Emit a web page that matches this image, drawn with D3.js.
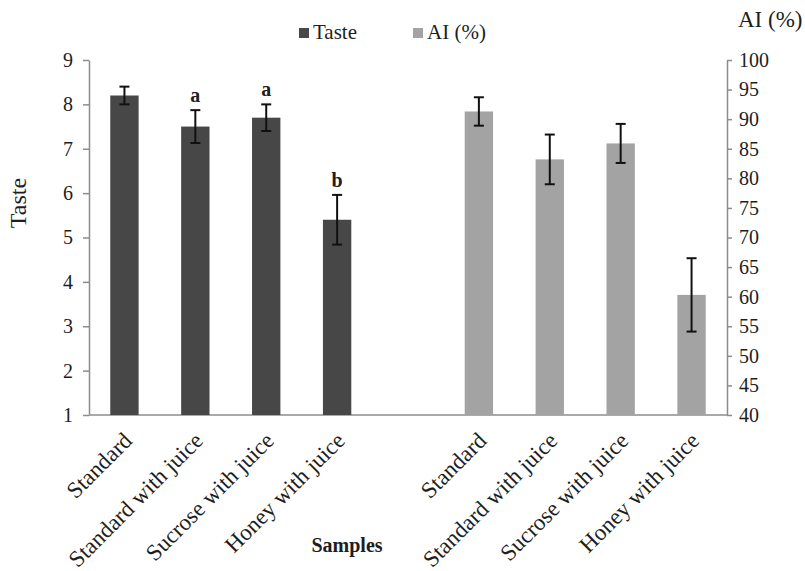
<!DOCTYPE html>
<html>
<head>
<meta charset="utf-8">
<script src="https://cdn.jsdelivr.net/npm/d3@7"></script>
<style>
  body { margin: 0; background: #fff; }
  svg text { font-family: 'Liberation Serif', 'Times New Roman', serif; fill: #1e1e1e; }
  .axis path, .axis line { stroke: #8c8c8c; stroke-width: 1.5; }
  .axis text { font-size: 20px; font-family: 'Liberation Serif', 'Times New Roman', serif; }
</style>
</head>
<body>
<svg id="chart"></svg>
<script>
// data
const samples = ['Standard', 'Standard with juice', 'Sucrose with juice', 'Honey with juice'];
const tasteValues = [8.2, 7.5, 7.7, 5.4];
const tasteErrors = [0.2, 0.37, 0.3, 0.56];
const tasteLetters = ['', 'a', 'a', 'b'];
const aiValues = [91.3, 83.2, 85.9, 60.3];
const aiErrors = [2.4, 4.2, 3.3, 6.2];
const tasteTicks = [1, 2, 3, 4, 5, 6, 7, 8, 9];
const aiTicks = [40, 45, 50, 55, 60, 65, 70, 75, 80, 85, 90, 95, 100];

const config = {
  width: 805, height: 571,
  margin: {top: 60, right: 78, bottom: 156, left: 89}
};
const innerW = config.width - config.margin.left - config.margin.right;
const innerH = config.height - config.margin.top - config.margin.bottom;

const svg = d3.select('#chart')
    .attr('width', config.width)
    .attr('height', config.height);

const chart = svg.append('g')
    .attr('transform', `translate(${config.margin.left},${config.margin.top})`);

// 9 slots: 4 taste, one empty gap, 4 AI
const slots = samples.map((s, i) => 't' + i).concat(['gap']).concat(samples.map((s, i) => 'a' + i));
const xScale = d3.scaleBand().domain(slots).range([0, innerW]).paddingInner(0.6).paddingOuter(0.3);

const yTaste = d3.scaleLinear().domain([1, 9]).range([innerH, 0]);
const yAI = d3.scaleLinear().domain([40, 100]).range([innerH, 0]);

// axes
const yAxisL = d3.axisLeft(yTaste).tickValues(tasteTicks).tickSize(6).tickPadding(10).tickSizeOuter(0);
const yAxisR = d3.axisRight(yAI).tickValues(aiTicks).tickSize(5).tickPadding(7).tickSizeOuter(0);

chart.append('g').attr('class', 'axis y-left').call(yAxisL);
chart.append('g').attr('class', 'axis y-right')
    .attr('transform', `translate(${innerW},0)`)
    .call(yAxisR);

// x baseline
chart.append('line')
    .attr('x1', 0).attr('x2', innerW)
    .attr('y1', innerH).attr('y2', innerH)
    .style('stroke', '#8c8c8c').style('stroke-width', 1.5);

const tasteData = samples.map((s, i) => ({key: 't' + i, name: s, v: tasteValues[i], e: tasteErrors[i], letter: tasteLetters[i]}));
const aiData = samples.map((s, i) => ({key: 'a' + i, name: s, v: aiValues[i], e: aiErrors[i]}));

// bars
chart.selectAll('.bar-taste')
    .data(tasteData)
    .join('rect')
    .attr('class', 'bar-taste')
    .attr('x', d => xScale(d.key))
    .attr('width', xScale.bandwidth())
    .attr('y', d => yTaste(d.v))
    .attr('height', d => innerH - yTaste(d.v))
    .attr('fill', '#474747');

chart.selectAll('.bar-ai')
    .data(aiData)
    .join('rect')
    .attr('class', 'bar-ai')
    .attr('x', d => xScale(d.key))
    .attr('width', xScale.bandwidth())
    .attr('y', d => yAI(d.v))
    .attr('height', d => innerH - yAI(d.v))
    .attr('fill', '#a3a3a3');

// error bars
function errorBars(data, yScale, cls) {
  const g = chart.selectAll('.' + cls)
      .data(data)
      .join('g')
      .attr('class', cls)
      .style('stroke', '#111')
      .style('stroke-width', 2);
  const cx = d => xScale(d.key) + xScale.bandwidth() / 2;
  g.append('line')
      .attr('x1', cx).attr('x2', cx)
      .attr('y1', d => yScale(d.v + d.e)).attr('y2', d => yScale(d.v - d.e));
  g.append('line')
      .attr('x1', d => cx(d) - 5).attr('x2', d => cx(d) + 5)
      .attr('y1', d => yScale(d.v + d.e)).attr('y2', d => yScale(d.v + d.e));
  g.append('line')
      .attr('x1', d => cx(d) - 5).attr('x2', d => cx(d) + 5)
      .attr('y1', d => yScale(d.v - d.e)).attr('y2', d => yScale(d.v - d.e));
}
errorBars(tasteData, yTaste, 'err-taste');
errorBars(aiData, yAI, 'err-ai');

// significance letters
chart.selectAll('.letter')
    .data(tasteData.filter(d => d.letter))
    .join('text')
    .attr('class', 'letter')
    .attr('x', d => xScale(d.key) + xScale.bandwidth() / 2)
    .attr('y', d => yTaste(d.v + d.e) - 8)
    .attr('text-anchor', 'middle')
    .style('font-size', '20px')
    .style('font-weight', 'bold')
    .text(d => d.letter);

// category labels rotated
chart.selectAll('.cat-label')
    .data(tasteData.concat(aiData))
    .join('text')
    .attr('class', 'cat-label')
    .attr('text-anchor', 'end')
    .attr('transform', d => `translate(${xScale(d.key) + xScale.bandwidth() / 2 + 9},${innerH + 27}) rotate(-45)`)
    .style('font-size', '23px')
    .text(d => d.name);

// axis titles
svg.append('text')
    .attr('transform', `translate(26,${config.margin.top + 143}) rotate(-90)`)
    .attr('text-anchor', 'middle')
    .style('font-size', '24px')
    .text('Taste');

svg.append('text')
    .attr('x', 738).attr('y', 27)
    .attr('text-anchor', 'start')
    .style('font-size', '23px')
    .text('AI (%)');

svg.append('text')
    .attr('x', 347).attr('y', 552)
    .attr('text-anchor', 'middle')
    .style('font-size', '20px')
    .style('font-weight', 'bold')
    .text('Samples');

// legend
const legendItems = [
  {label: 'Taste', color: '#474747', x: 299},
  {label: 'AI (%)', color: '#a3a3a3', x: 413}
];
const legend = svg.selectAll('.legend')
    .data(legendItems)
    .join('g')
    .attr('class', 'legend')
    .attr('transform', d => `translate(${d.x},33)`);
legend.append('rect')
    .attr('x', 0).attr('y', -5).attr('width', 10).attr('height', 10)
    .attr('fill', d => d.color);
legend.append('text')
    .attr('x', 14).attr('y', 6)
    .style('font-size', '21px')
    .text(d => d.label);
</script>
</body>
</html>
